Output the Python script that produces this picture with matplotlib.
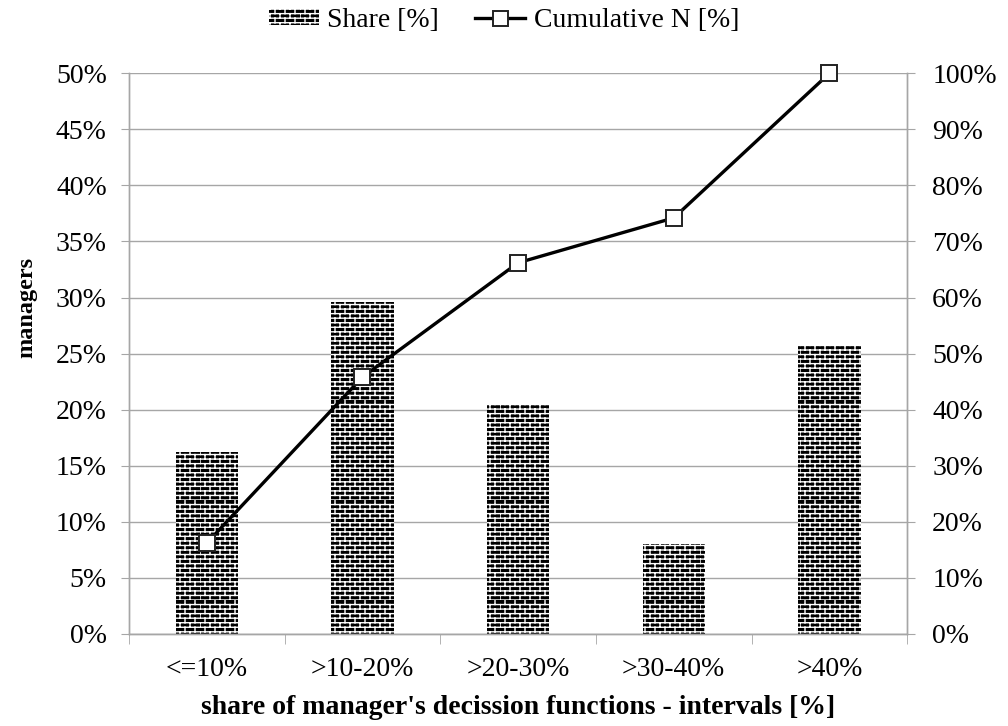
import numpy as np
import matplotlib
matplotlib.use('Agg')
import matplotlib.pyplot as plt
from matplotlib import hatch as mhatch
from matplotlib.ticker import PercentFormatter, MultipleLocator

# intervals and shares of managers
categories = ['<=10%', '>10-20%', '>20-30%', '>30-40%', '>40%']
share = [16.2, 29.6, 20.4, 8.0, 25.8]
cumulative = [16.2, 45.8, 66.2, 74.2, 100.0]


# brick texture for the bars (white mortar lines on black)
class BrickHatch(mhatch.HatchPatternBase):
    def __init__(self, hatch, density):
        self.rows = 22 if hatch else 0
        self.bricks = 10
        # one horizontal line per row + one short vertical per brick
        self.num_vertices = (self.rows + self.rows * self.bricks) * 2

    def set_vertices_and_codes(self, vertices, codes):
        pts = []
        for i in range(self.rows):
            y0 = i / self.rows
            y1 = (i + 1) / self.rows
            pts.append(((0.0, y0), (1.0, y0)))
            off = 0.5 / self.bricks if i % 2 else 0.0
            for j in range(self.bricks):
                x = j / self.bricks + off
                pts.append(((x, y0), (x, y1)))
        arr = np.array(pts).reshape(-1, 2)
        vertices[:] = arr
        codes[0::2] = matplotlib.path.Path.MOVETO
        codes[1::2] = matplotlib.path.Path.LINETO


mhatch._hatch_types = [BrickHatch]

plt.rcParams['font.family'] = ['Liberation Serif', 'DejaVu Serif']
plt.rcParams['hatch.linewidth'] = 1.0

grid_col = '#a6a6a6'
fs = 20

fig = plt.figure(figsize=(10.08, 7.26), dpi=100)
ax = fig.add_axes([0.128, 0.127, 0.772, 0.772])
x = np.arange(len(categories))

ax.bar(x, share, width=0.4, color='black', edgecolor='white', linewidth=0,
       hatch='+', label='Share [%]', zorder=2)

ax.set_xlim(-0.5, len(categories) - 0.5)
ax.set_ylim(0, 50)
ax.yaxis.set_major_locator(MultipleLocator(5))
ax.yaxis.set_major_formatter(PercentFormatter(decimals=0))
ax.grid(axis='y', color=grid_col, linewidth=1.0, zorder=0)
ax.set_axisbelow(True)
ax.set_xticks(x)
ax.set_xticklabels(categories)
ax.set_xticks(np.arange(-0.5, len(categories)), minor=True)
ax.tick_params(axis='x', which='major', length=0, pad=17, labelsize=fs)
ax.tick_params(axis='x', which='minor', length=7, color=grid_col, direction='out')
ax.tick_params(axis='y', length=6, color=grid_col, direction='out', pad=10, labelsize=fs)

ax2 = ax.twinx()
ax2.plot(x, cumulative, color='black', linewidth=2.4, marker='s', markersize=12,
         markerfacecolor='white', markeredgecolor='#222222', markeredgewidth=1.4,
         label='Cumulative N [%]', zorder=3, clip_on=False)
ax2.set_ylim(0, 100)
ax2.yaxis.set_major_locator(MultipleLocator(10))
ax2.yaxis.set_major_formatter(PercentFormatter(decimals=0))
ax2.tick_params(axis='y', length=6, color=grid_col, direction='out', pad=12, labelsize=fs)

for a in (ax, ax2):
    a.spines['top'].set_visible(False)
    for s in ('left', 'right', 'bottom'):
        a.spines[s].set_color(grid_col)
        a.spines[s].set_linewidth(1.0)

ax.set_xlabel("share of manager's decission functions - intervals [%]",
              fontsize=fs, fontweight='bold')
ax.xaxis.set_label_coords(0.5, -0.11)
ax.set_ylabel('managers', fontsize=17.5, fontweight='bold')
ax.yaxis.set_label_coords(-0.118, 0.583)

h1, l1 = ax.get_legend_handles_labels()
h2, l2 = ax2.get_legend_handles_labels()
fig.legend(h1 + h2, l1 + l2, loc='center', bbox_to_anchor=(0.5, 0.972), ncol=2,
           frameon=False, fontsize=fs, handlelength=1.8, handleheight=0.5,
           handletextpad=0.3, columnspacing=1.3, markerscale=0.9)

fig.savefig('out.png', dpi=100)
